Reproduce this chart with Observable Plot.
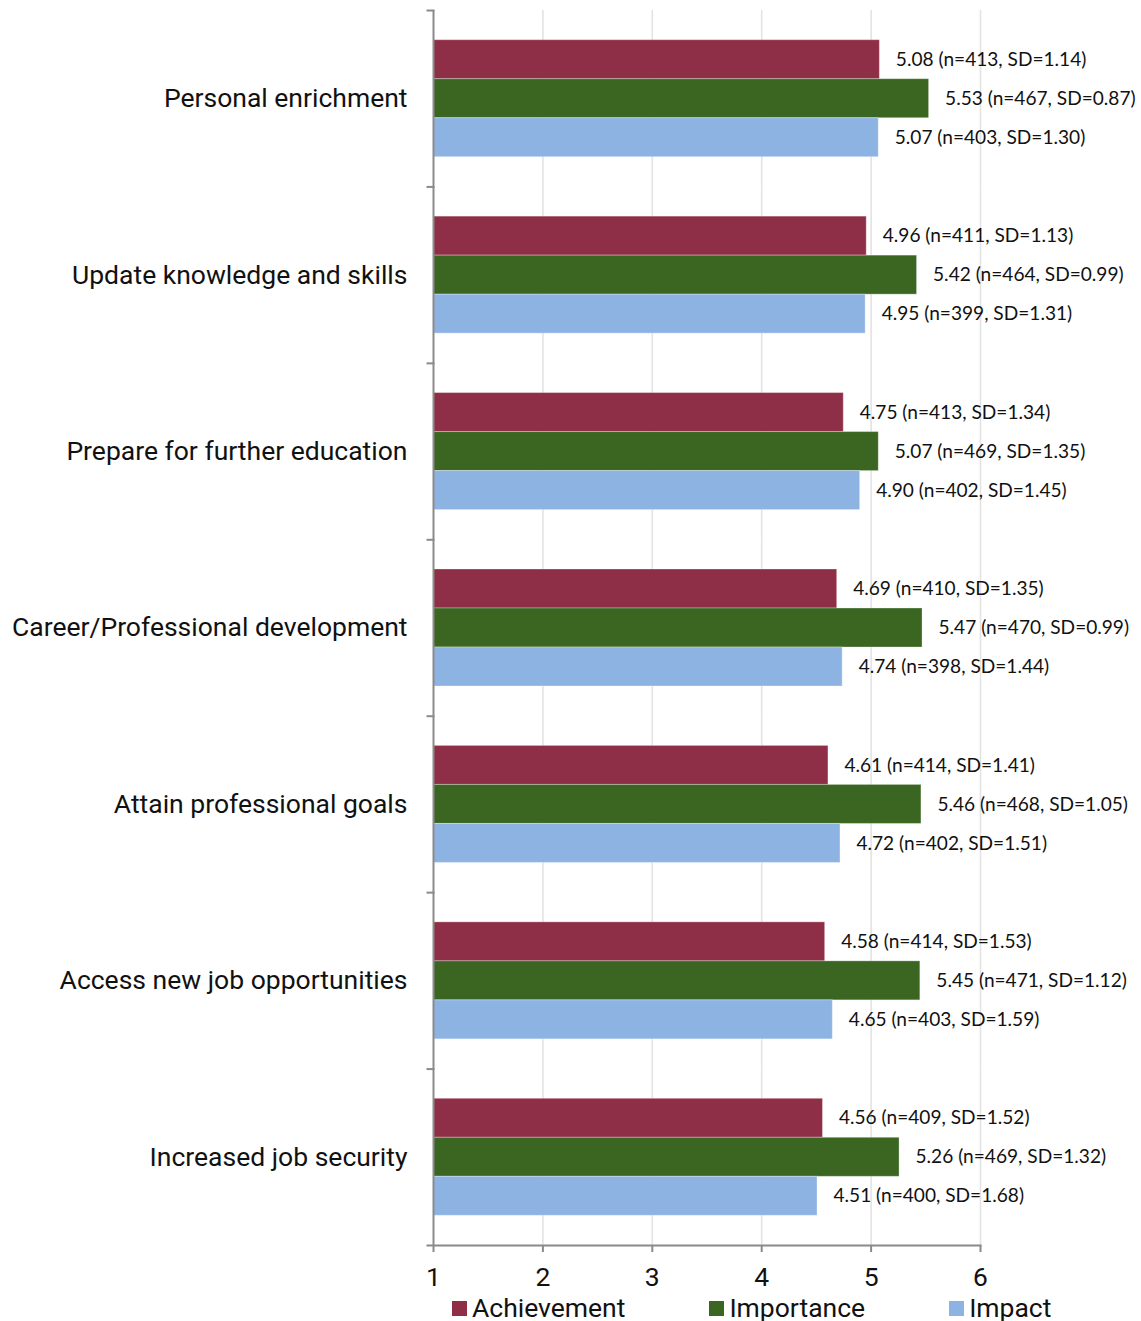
<!DOCTYPE html>
<html>
<head>
<meta charset="utf-8">
<script src="https://cdn.jsdelivr.net/npm/d3@7"></script>
<script src="https://cdn.jsdelivr.net/npm/@observablehq/plot@0.6"></script>
<style>
  body { margin: 0; background: #fff; }
  #chart { width: 1141px; }
  .legend { display: flex; align-items: center; padding-left: 452px; font-family: Roboto, sans-serif; font-size: 26.5px; color: #111; height: 28px; line-height: 28px; margin-top: 2px; }
  .legend .item { display: flex; align-items: center; margin-right: 84px; }
  .legend .sw { width: 15px; height: 15px; margin-right: 5px; }
</style>
</head>
<body>
<div id="chart"></div>
<script>
const categories = ["Personal enrichment", "Update knowledge and skills", "Prepare for further education", "Career/Professional development", "Attain professional goals", "Access new job opportunities", "Increased job security"];
const series = ["Achievement", "Importance", "Impact"];
const colors = ["#8E2F47", "#3A6621", "#8DB3E2"];

const achievementMean = [5.08, 4.96, 4.75, 4.69, 4.61, 4.58, 4.56];
const achievementN    = [413, 411, 413, 410, 414, 414, 409];
const achievementSD   = [1.14, 1.13, 1.34, 1.35, 1.41, 1.53, 1.52];

const importanceMean = [5.53, 5.42, 5.07, 5.47, 5.46, 5.45, 5.26];
const importanceN    = [467, 464, 469, 470, 468, 471, 469];
const importanceSD   = [0.87, 0.99, 1.35, 0.99, 1.05, 1.12, 1.32];

const impactMean = [5.07, 4.95, 4.90, 4.74, 4.72, 4.65, 4.51];
const impactN    = [403, 399, 402, 398, 402, 403, 400];
const impactSD   = [1.30, 1.31, 1.45, 1.44, 1.51, 1.59, 1.68];

const xTicks = [1, 2, 3, 4, 5, 6];

const seriesData = [
  [achievementMean, achievementN, achievementSD],
  [importanceMean, importanceN, importanceSD],
  [impactMean, impactN, impactSD]
];
const data = [];
categories.forEach((c, i) => {
  series.forEach((s, j) => {
    const [m, n, sd] = seriesData[j];
    data.push({category: c, series: s, mean: m[i], n: n[i], sd: sd[i]});
  });
});

const W = 1141, H = 1292, mL = 433, mR = 161, mT = 10, mB = 47;

const plot = Plot.plot({
  width: W,
  height: H,
  marginLeft: mL,
  marginRight: mR,
  marginTop: mT,
  marginBottom: mB,
  style: {fontFamily: "Roboto, sans-serif", fontSize: "26.5px", color: "#111", background: "#fff"},
  x: {domain: [1, 6]},
  y: {domain: series, axis: null, paddingInner: 0, paddingOuter: 0.762, round: false},
  fy: {domain: categories, padding: 0, round: false},
  color: {domain: series, range: colors},
  marks: [
    Plot.ruleX(xTicks.slice(1), {stroke: "#e3e3e3", strokeWidth: 1.6}),
    Plot.barX(data, {fy: "category", y: "series", x1: 1, x2: "mean", fill: "series", inset: 0, stroke: "white", strokeOpacity: 0.3, strokeWidth: 1}),
    Plot.text(data, {fy: "category", y: "series", x: "mean", text: d => `${d.mean.toFixed(2)} (n=${d.n}, SD=${d.sd.toFixed(2)})`, textAnchor: "start", dx: 16, fontFamily: "Lato, sans-serif", fontSize: 19.1, fill: "#111"}),
    Plot.ruleX([1], {stroke: "#8a8a8a", strokeWidth: 2}),
    Plot.frame({anchor: "top", stroke: "#8a8a8a", strokeWidth: 2, insetLeft: -6, insetRight: W - mL - mR}),
    Plot.frame({anchor: "bottom", facetAnchor: "bottom", stroke: "#8a8a8a", strokeWidth: 2, insetLeft: -6}),
    Plot.axisFy({anchor: "left", tickSize: 0, tickPadding: 26, fontSize: 26.5, label: null}),
    Plot.axisX({anchor: "bottom", ticks: xTicks, tickSize: 7, tickPadding: 15, stroke: "#8a8a8a", strokeWidth: 2, fontSize: 26.5, label: null, tickFormat: d => String(d)})
  ]
});
document.getElementById("chart").appendChild(plot);

const legend = document.createElement("div");
legend.className = "legend";
series.forEach((s, i) => {
  const item = document.createElement("div");
  item.className = "item";
  const sw = document.createElement("span");
  sw.className = "sw";
  sw.style.background = colors[i];
  const t = document.createElement("span");
  t.textContent = s;
  item.appendChild(sw);
  item.appendChild(t);
  legend.appendChild(item);
});
document.getElementById("chart").appendChild(legend);
</script>
</body>
</html>
